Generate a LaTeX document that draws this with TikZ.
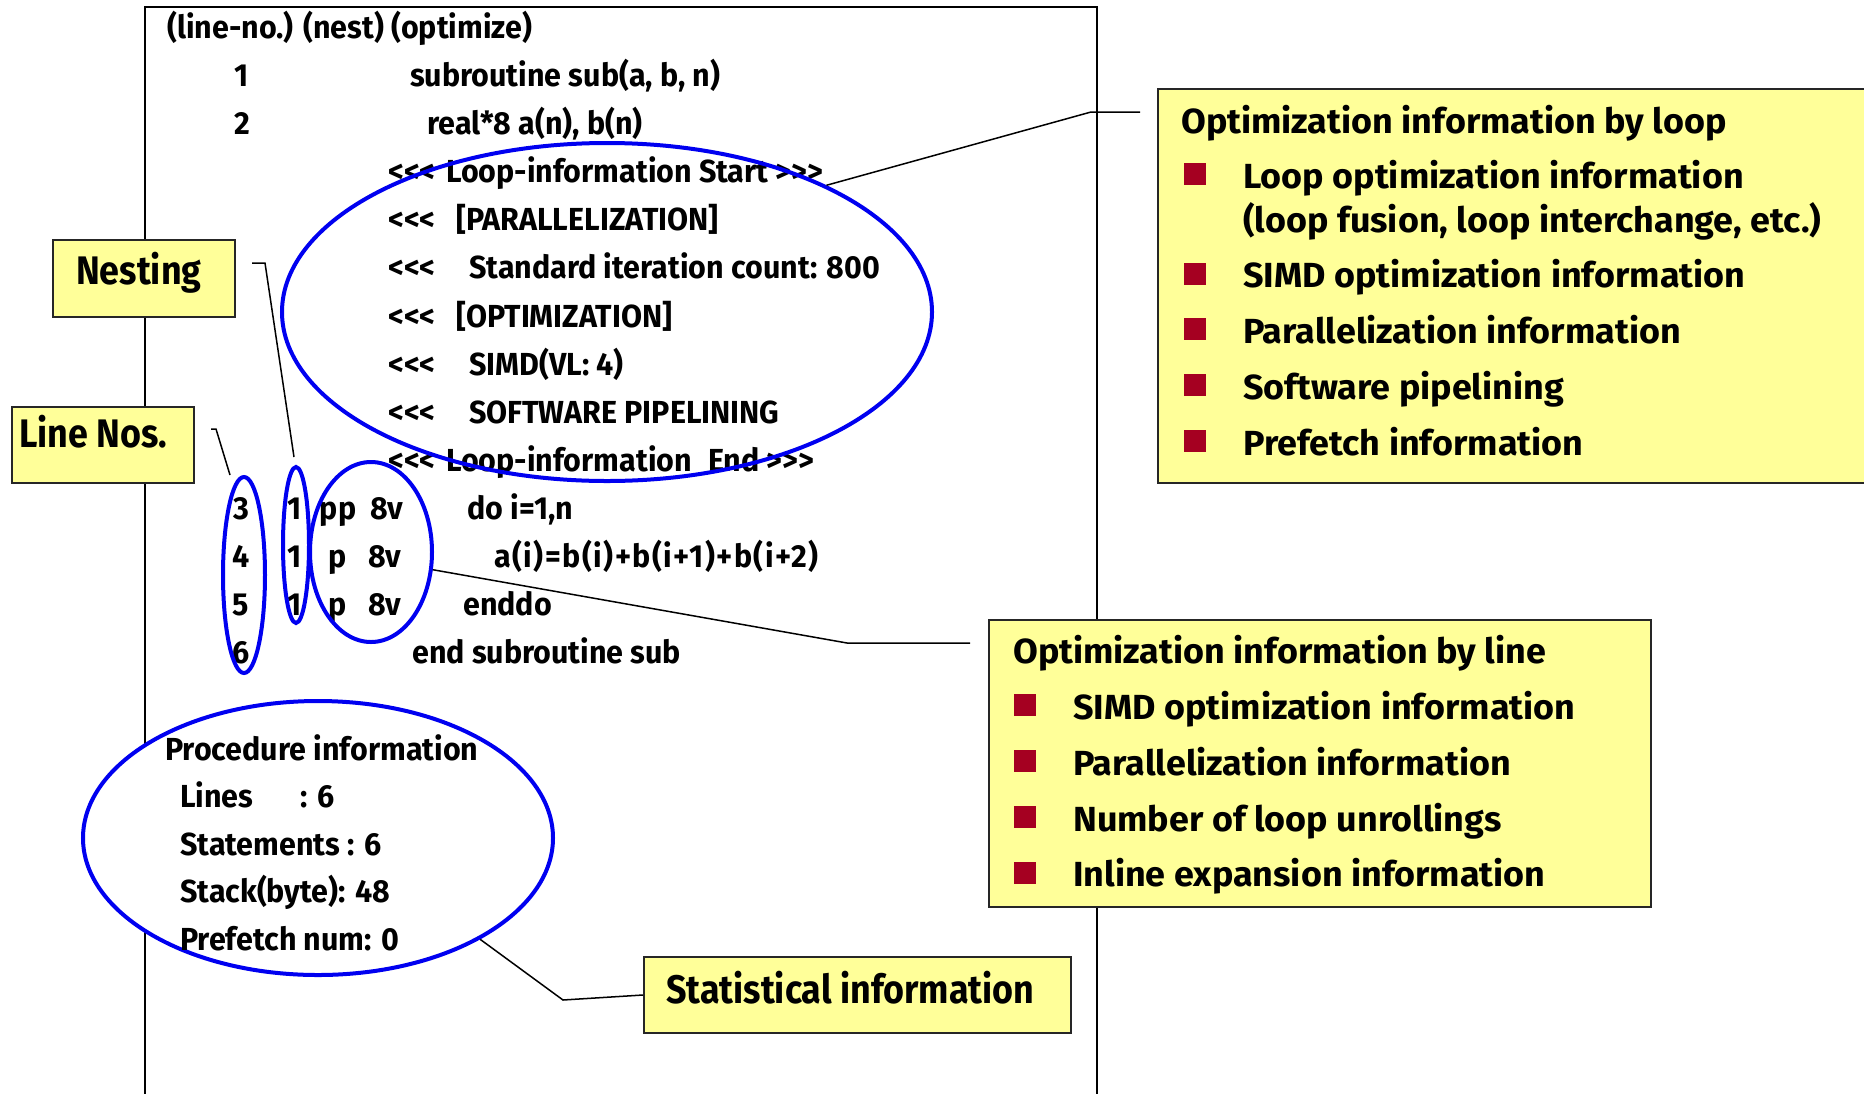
\documentclass[tikz,border=0pt]{standalone}
\usepackage{fontspec}
\setmainfont{Fira Sans}
\newfontfamily\codefont{Fira Sans}[FakeStretch=0.955]
\newfontfamily\boxfont{Fira Sans}[FakeStretch=1.03]
\newfontfamily\calloutfont{Fira Sans}[FakeStretch=0.9]
\usetikzlibrary{shapes.geometric,calc}
\definecolor{noteyellow}{RGB}{255,255,153}
\definecolor{bulletred}{RGB}{165,0,33}
\definecolor{ringblue}{RGB}{0,0,240}
\begin{document}
\begin{tikzpicture}[x=1bp,y=-1bp,
  frameline/.style={draw=black, line width=2bp},
  ring/.style={ellipse, draw=ringblue, line width=4bp, inner sep=0pt},
  cbox/.style={rectangle, draw=black!85, fill=noteyellow, line width=2bp, inner sep=0pt},
  bulletsq/.style={rectangle, fill=bulletred, minimum size=22bp, inner sep=0pt},
  ctext/.style={anchor=base west, inner sep=0pt, font=\codefont\bfseries\fontsize{32}{36}\selectfont},
  cctr/.style={ctext, anchor=base},
  btext/.style={anchor=base west, inner sep=0pt, font=\boxfont\bfseries\fontsize{35}{40}\selectfont},
  ltext/.style={anchor=base west, inner sep=0pt, font=\calloutfont\bfseries\fontsize{40}{44}\selectfont},
  conn/.style={draw=black, line width=1.5bp}
]
\useasboundingbox[fill=white] (0,0) rectangle (1864,1093);
% listing frame
\draw[frameline] (145,1100) -- (145,7) -- (1097,7) -- (1097,1100);

% procedure ellipse (white fill hides the frame)
\node[ring, fill=white, minimum width=470bp, minimum height=274bp] (proc) at (318,838) {};

% listing text
\node[ctext] (hdr) at (167,38) {(line-no.) (nest) (optimize)};
\node[ctext] (n1) at (234,86) {1};
\node[ctext] (l1) at (410,86) {subroutine sub(a, b, n)};
\node[ctext] (n2) at (234,134) {2};
\node[ctext] (l2) at (427,134) {real*8 a(n), b(n)};
\node[ctext] (a3) at (388,182) {<<<};
\node[ctext] (l3) at (446,182) {Loop-information Start >>>};
\node[ctext] (a4) at (388,230) {<<<};
\node[ctext] (l4) at (456,230) {[PARALLELIZATION]};
\node[ctext] (a5) at (388,278) {<<<};
\node[ctext] (l5) at (469,278) {Standard iteration count: 800};
\node[ctext] (a6) at (388,327) {<<<};
\node[ctext] (l6) at (456,327) {[OPTIMIZATION]};
\node[ctext] (a7) at (388,375) {<<<};
\node[ctext] (l7) at (469,375) {SIMD(VL: 4)};
\node[ctext] (a8) at (388,423) {<<<};
\node[ctext] (l8) at (469,423) {SOFTWARE PIPELINING};
\node[ctext] (a9) at (388,471) {<<<};
\node[ctext] (l9) at (446,471) {Loop-information};
\node[ctext] (e9) at (708,471) {End >>>};
\node[cctr] (n3) at (241,519) {3};
\node[cctr] (s3) at (295,519) {1};
\node[cctr] (p3) at (338,519) {pp};
\node[cctr] (v3) at (387,519) {8v};
\node[ctext] (l10) at (467,519) {do i=1,n};
\node[cctr] (n4) at (241,567) {4};
\node[cctr] (s4) at (295,567) {1};
\node[cctr] (p4) at (338,567) {p};
\node[cctr] (v4) at (385,567) {8v};
\node[ctext] (l11) at (494,567) {\addfontfeatures{LetterSpace=4.7}a(i)=b(i)+b(i+1)+b(i+2)};
\node[cctr] (n5) at (241,615) {5};
\node[cctr] (s5) at (295,615) {1};
\node[cctr] (p5) at (338,615) {p};
\node[cctr] (v5) at (385,615) {8v};
\node[ctext] (l12) at (463,615) {enddo};
\node[cctr] (n6) at (241,663) {6};
\node[ctext] (l13) at (412,663) {end subroutine sub};

% procedure information
\node[ctext] (pi0) at (165,760) {Procedure information};
\node[ctext] (pi1) at (180,807) {Lines};
\node[ctext] (pi1v) at (300,807) {: 6};
\node[ctext] (pi2) at (180,855) {Statements : 6};
\node[ctext] (pi3) at (180,902) {Stack(byte): 48};
\node[ctext] (pi4) at (180,950) {Prefetch num: 0};

% rings
\node[ring, minimum width=650bp, minimum height=338bp] (loop) at (607,312) {};
\node[ring, minimum width=42bp, minimum height=196bp] (lnos) at (244,575) {};
\node[ring, minimum width=26bp, minimum height=156bp] (nest) at (296,545) {};
\node[ring, minimum width=122bp, minimum height=180bp] (opt) at (371,552) {};

% loop info box
\node[cbox, anchor=north west, minimum width=730bp, minimum height=394bp] (loopbox) at (1157,88) {};
\node[btext] (lt) at (1181,133) {Optimization information by loop};
\node[bulletsq] (lb1) at (1194.5,174) {};
\node[btext] (li1) at (1243,188) {Loop optimization information};
\node[btext] (li1b) at (1243,232) {(loop fusion, loop interchange, etc.)};
\node[bulletsq] (lb2) at (1194.5,273.5) {};
\node[btext] (li2) at (1243,287) {SIMD optimization information};
\node[bulletsq] (lb3) at (1194.5,329) {};
\node[btext] (li3) at (1243,343) {Parallelization information};
\node[bulletsq] (lb4) at (1194.5,385) {};
\node[btext] (li4) at (1243,399) {Software pipelining};
\node[bulletsq] (lb5) at (1194.5,441) {};
\node[btext] (li5) at (1243,455) {Prefetch information};

% line info box
\node[cbox, anchor=north west, minimum width=662bp, minimum height=287bp] (linebox) at (988,619) {};
\node[btext] (nt) at (1013,663) {Optimization information by line};
\node[bulletsq] (nb1) at (1025,705) {};
\node[btext] (ni1) at (1073,719) {SIMD optimization information};
\node[bulletsq] (nb2) at (1025,761) {};
\node[btext] (ni2) at (1073,775) {Parallelization information};
\node[bulletsq] (nb3) at (1025,817) {};
\node[btext] (ni3) at (1073,831) {Number of loop unrollings};
\node[bulletsq] (nb4) at (1025,872.5) {};
\node[btext] (ni4) at (1073,886) {Inline expansion information};

% callouts
\node[cbox, anchor=north west, minimum width=182bp, minimum height=77bp] (nestbox) at (52,239) {};
\node[ltext] (nestlbl) at (76,284) {Nesting};
\node[cbox, anchor=north west, minimum width=182bp, minimum height=76bp] (lnbox) at (11,406) {};
\node[ltext] (lnlbl) at (19,447) {Line Nos.};
\node[cbox, anchor=north west, minimum width=427bp, minimum height=76bp] (statbox) at (643,956) {};
\node[ltext] (statlbl) at (666,1003) {Statistical information};

% connectors
\draw[conn] (loop.30) -- ($(loopbox.north west)+(-66,24)$) -- ($(loopbox.north west)+(-17,24)$);
\draw[conn] (opt.-16) -- ($(linebox.north west)+(-141,24)$) -- ($(linebox.north west)+(-18,24)$);
\draw[conn] (proc.-32) -- ($(statbox.west)+(-80,5)$) -- (statbox.west);
\draw[conn] ($(nestbox.north east)+(16,24)$) -- ($(nestbox.north east)+(29,24)$) -- ([xshift=-2bp,yshift=8bp]nest.north);
\draw[conn] ($(lnbox.north east)+(16,23)$) -- ($(lnbox.north east)+(21,23)$) -- ([xshift=-14bp]lnos.north);
\end{tikzpicture}
\end{document}
